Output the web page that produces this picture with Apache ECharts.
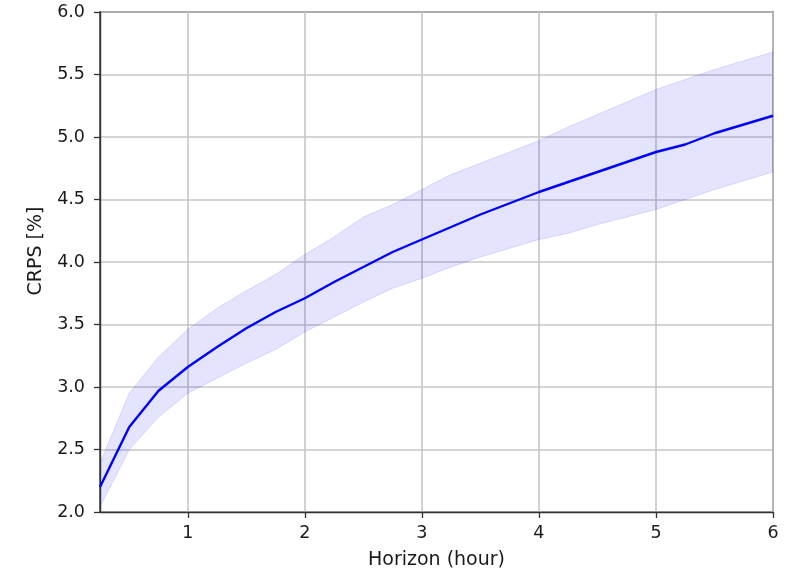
<!DOCTYPE html>
<html>
<head>
<meta charset="utf-8">
<script src="https://cdn.jsdelivr.net/npm/echarts@6/dist/echarts.min.js"></script>
<style>html,body{margin:0;padding:0;background:#fff}#c{width:794px;height:570px}</style>
</head>
<body>
<div id="c"></div>
<script>
var horizon = [0.25,0.5,0.75,1,1.25,1.5,1.75,2,2.25,2.5,2.75,3,3.25,3.5,3.75,4,4.25,4.5,4.75,5,5.25,5.5,5.75,6];
var crpsMean  = [2.20,2.68,2.97,3.16,3.32,3.47,3.60,3.71,3.84,3.96,4.08,4.18,4.28,4.38,4.47,4.56,4.64,4.72,4.80,4.88,4.94,5.03,5.10,5.17];
var crpsUpper = [2.39,2.95,3.24,3.46,3.63,3.77,3.90,4.06,4.20,4.36,4.46,4.58,4.70,4.79,4.88,4.97,5.08,5.18,5.28,5.38,5.46,5.54,5.61,5.68];
var crpsLower = [2.04,2.50,2.76,2.95,3.07,3.19,3.30,3.44,3.56,3.68,3.79,3.87,3.96,4.04,4.11,4.18,4.23,4.30,4.36,4.42,4.50,4.58,4.65,4.72];
var xTicks = [1,2,3,4,5,6];

var font = 'DejaVu Sans';
var bandData = horizon.map(function(x,i){ return [x, crpsLower[i], crpsUpper[i]]; });
var meanData = horizon.map(function(x,i){ return [x, crpsMean[i]]; });

var chart = echarts.init(document.getElementById('c'), null, {renderer:'canvas'});
chart.setOption({
  animation: false,
  backgroundColor: '#fff',
  grid: {left:100, right:21, top:12, bottom:58, outerBoundsMode:'none', containLabel:false, show:true, borderColor:'#333', borderWidth:1.4, backgroundColor:'transparent'},
  xAxis: {
    type:'value', min:0.25, max:6,
    name:'Horizon (hour)', nameLocation:'middle', nameGap:39,
    nameTextStyle:{fontFamily:font, fontSize:19, color:'#1a1a1a'},
    axisLine:{show:true, onZero:false, lineStyle:{color:'#333', width:1.4}},
    axisTick:{show:true, length:6, customValues:xTicks, lineStyle:{color:'#333', width:1.3}},
    axisLabel:{customValues:xTicks, fontFamily:font, fontSize:17.5, color:'#1a1a1a', margin:12},
    splitLine:{show:true, lineStyle:{color:'#c6c6c6', width:1.6}}
  },
  yAxis: {
    type:'value', min:2, max:6, interval:0.5,
    name:'CRPS [%]', nameLocation:'middle', nameGap:54, nameRotate:90,
    nameTextStyle:{fontFamily:font, fontSize:19, color:'#1a1a1a', padding:[0,0,0,22]},
    axisLine:{show:true, onZero:false, lineStyle:{color:'#333', width:1.4}},
    axisTick:{show:true, length:6, lineStyle:{color:'#333', width:1.3}},
    axisLabel:{fontFamily:font, fontSize:17.5, color:'#1a1a1a', margin:15, formatter:function(v){return v.toFixed(1);}},
    splitLine:{show:true, lineStyle:{color:'#c6c6c6', width:1.6}}
  },
  series: [
    {
      type:'custom', data:bandData, encode:{x:0, y:[1,2]}, z:1, silent:true, clip:true,
      renderItem:function(params, api){
        if (params.dataIndex !== 0) return null;
        var pts = [], i;
        for (i = 0; i < bandData.length; i++) pts.push(api.coord([bandData[i][0], bandData[i][2]]));
        for (i = bandData.length - 1; i >= 0; i--) pts.push(api.coord([bandData[i][0], bandData[i][1]]));
        return {type:'polygon', shape:{points:pts}, style:{fill:'rgba(0,0,255,0.105)', stroke:'rgba(0,0,255,0.12)', lineWidth:1}};
      }
    },
    {type:'line', data:meanData, symbol:'none', lineStyle:{color:'#0000ff', width:2.4}, z:3}
  ]
});
</script>
</body>
</html>
